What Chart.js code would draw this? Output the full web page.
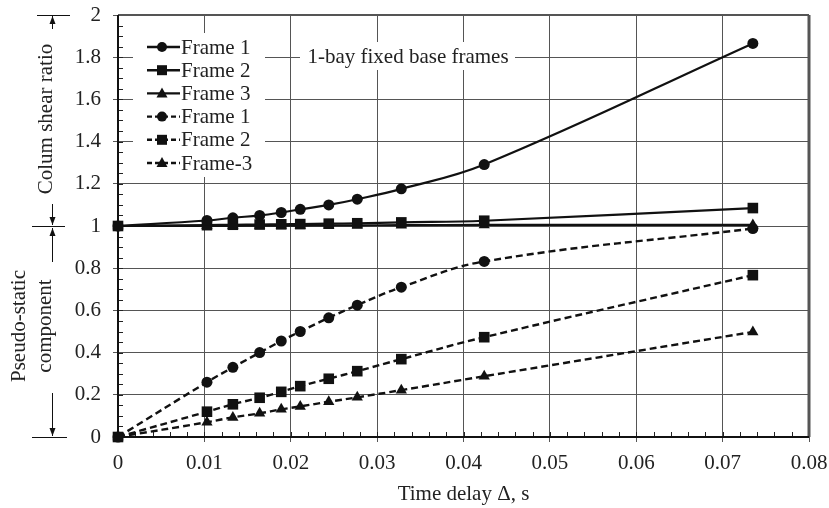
<!DOCTYPE html>
<html>
<head>
<meta charset="utf-8">
<script src="https://cdn.jsdelivr.net/npm/chart.js@4.4.1/dist/chart.umd.min.js"></script>
<style>
  body { margin: 0; background: #fff; }
</style>
</head>
<body>
<canvas id="chart" width="829" height="508"></canvas>
<script>
// time delay (s) at each analysis point
const timeDelays = [0, 0.0103, 0.0133, 0.0164, 0.0189, 0.0211, 0.0244, 0.0277, 0.0328, 0.0424, 0.0735];

// column shear ratio (solid lines)
const shearFrame1 = [1, 1.026, 1.039, 1.05, 1.064, 1.079, 1.1, 1.127, 1.176, 1.291, 1.865];
const shearFrame2 = [1, 1.004, 1.006, 1.007, 1.008, 1.009, 1.011, 1.013, 1.017, 1.025, 1.085];
const shearFrame3 = [1, 1.001, 1.001, 1.002, 1.002, 1.002, 1.003, 1.003, 1.004, 1.005, 1.005];

// pseudo-static component (dashed lines)
const pseudoFrame1 = [0, 0.26, 0.33, 0.4, 0.455, 0.5, 0.565, 0.625, 0.71, 0.832, 0.988];
const pseudoFrame2 = [0, 0.12, 0.155, 0.186, 0.214, 0.241, 0.276, 0.312, 0.369, 0.473, 0.767];
const pseudoFrame3 = [0, 0.07, 0.093, 0.112, 0.131, 0.145, 0.167, 0.188, 0.222, 0.288, 0.498];

const seriesLabels = ["Frame 1", "Frame 2", "Frame 3", "Frame 1", "Frame 2", "Frame-3"];
const xTickValues = [0, 0.01, 0.02, 0.03, 0.04, 0.05, 0.06, 0.07, 0.08];
const yTickValues = [0, 0.2, 0.4, 0.6, 0.8, 1, 1.2, 1.4, 1.6, 1.8, 2];

const FONT = "Liberation Serif";
const FONT_SIZE = 21;
const INK = "#111";

const toPoints = (ys) => ys.map((y, i) => ({ x: timeDelays[i], y: y }));

const makeSeries = (label, ys, style, dashed) => ({
  label: label,
  data: toPoints(ys),
  borderColor: INK,
  backgroundColor: INK,
  borderWidth: dashed ? 2.4 : 2.2,
  borderDash: dashed ? [7, 4] : [],
  pointStyle: style,
  pointRadius: style === "rect" ? 7.5 : style === "triangle" ? 6.5 : 5.5,
  pointBorderWidth: 0,
  tension: 0.4,
  clip: false,
});

// white boxes, minor ticks, legend and frame drawn on top of the grid
const decorations = {
  id: "decorations",
  beforeDatasetsDraw(chart) {
    const { ctx, chartArea: a, scales } = chart;
    ctx.save();
    ctx.fillStyle = "#fff";
    ctx.fillRect(133, 33, 132, 144);
    ctx.fillRect(300, 42, 215, 28);

    // minor ticks
    ctx.strokeStyle = "#222";
    ctx.lineWidth = 1;
    ctx.beginPath();
    for (let v = 0.002; v < 0.08; v += 0.002) {
      const px = Math.round(scales.x.getPixelForValue(v)) + 0.5;
      ctx.moveTo(px, a.bottom);
      ctx.lineTo(px, a.bottom - 5);
    }
    for (let v = 0.05; v < 2; v += 0.05) {
      const py = Math.round(scales.y.getPixelForValue(v)) + 0.5;
      ctx.moveTo(a.left, py);
      ctx.lineTo(a.left + 5, py);
    }
    ctx.stroke();

    // frame
    ctx.strokeStyle = "#555";
    ctx.lineWidth = 2;
    ctx.beginPath();
    ctx.moveTo(a.left, a.top);
    ctx.lineTo(a.right, a.top);
    ctx.stroke();
    ctx.lineWidth = 3;
    ctx.beginPath();
    ctx.moveTo(a.right, a.top);
    ctx.lineTo(a.right, a.bottom);
    ctx.stroke();
    ctx.strokeStyle = INK;
    ctx.lineWidth = 2;
    ctx.beginPath();
    ctx.moveTo(a.left, a.top);
    ctx.lineTo(a.left, a.bottom);
    ctx.lineTo(a.right, a.bottom);
    ctx.stroke();

    // legend
    ctx.font = FONT_SIZE + "px " + FONT;
    ctx.textBaseline = "middle";
    ctx.textAlign = "left";
    chart.data.datasets.forEach((ds, i) => {
      const y = 47 + i * 23.2;
      ctx.strokeStyle = INK;
      ctx.lineWidth = 2.4;
      ctx.setLineDash(ds.borderDash.length ? [5, 3] : []);
      ctx.beginPath();
      ctx.moveTo(147, y);
      ctx.lineTo(180, y);
      ctx.stroke();
      ctx.setLineDash([]);
      ctx.fillStyle = INK;
      ctx.beginPath();
      if (ds.pointStyle === "circle") {
        ctx.arc(162, y, 5, 0, Math.PI * 2);
      } else if (ds.pointStyle === "rect") {
        ctx.rect(157, y - 5, 10, 10);
      } else {
        ctx.moveTo(162, y - 6);
        ctx.lineTo(167.5, y + 4);
        ctx.lineTo(156.5, y + 4);
        ctx.closePath();
      }
      ctx.fill();
      ctx.fillStyle = "#222";
      ctx.fillText(ds.label, 181, y + 1);
    });

    ctx.textAlign = "center";
    ctx.fillText("1-bay fixed base frames", 408, 57);
    ctx.restore();
  },
  afterDraw(chart) {
    const { ctx, scales } = chart;
    const y2 = scales.y.getPixelForValue(2);
    const y1 = scales.y.getPixelForValue(1);
    const y0 = scales.y.getPixelForValue(0);
    ctx.save();
    ctx.strokeStyle = INK;
    ctx.fillStyle = INK;
    ctx.lineWidth = 1;

    const hLine = (y, x1, x2) => {
      ctx.beginPath();
      ctx.moveTo(x1, Math.round(y) + 0.5);
      ctx.lineTo(x2, Math.round(y) + 0.5);
      ctx.stroke();
    };
    const arrow = (x, from, to) => {
      ctx.beginPath();
      ctx.moveTo(x + 0.5, from);
      ctx.lineTo(x + 0.5, to);
      ctx.stroke();
      const dir = to > from ? 1 : -1;
      ctx.beginPath();
      ctx.moveTo(x + 0.5, to);
      ctx.lineTo(x - 2.5, to - dir * 8);
      ctx.lineTo(x + 3.5, to - dir * 8);
      ctx.closePath();
      ctx.fill();
    };

    hLine(y2, 37, 70);
    hLine(y1, 32, 65);
    hLine(y0, 32, 67);
    arrow(52, y2 + 14, y2 + 1);
    arrow(52, y1 - 22, y1 - 1);
    arrow(52, y1 + 36, y1 + 2);
    arrow(52, y0 - 44, y0 - 1);

    ctx.font = FONT_SIZE + "px " + FONT;
    ctx.fillStyle = "#222";
    ctx.textAlign = "center";
    ctx.textBaseline = "middle";
    ctx.save();
    ctx.translate(46, 119);
    ctx.rotate(-Math.PI / 2);
    ctx.fillText("Colum shear ratio", 0, 0);
    ctx.restore();
    ctx.save();
    ctx.translate(19, 326);
    ctx.rotate(-Math.PI / 2);
    ctx.fillText("Pseudo-static", 0, 0);
    ctx.fillText("component", 0, 26);
    ctx.restore();
    ctx.restore();
  },
};

const ctx = document.getElementById("chart").getContext("2d");

new Chart(ctx, {
  type: "line",
  data: {
    datasets: [
      makeSeries(seriesLabels[0], shearFrame1, "circle", false),
      makeSeries(seriesLabels[1], shearFrame2, "rect", false),
      makeSeries(seriesLabels[2], shearFrame3, "triangle", false),
      makeSeries(seriesLabels[3], pseudoFrame1, "circle", true),
      makeSeries(seriesLabels[4], pseudoFrame2, "rect", true),
      makeSeries(seriesLabels[5], pseudoFrame3, "triangle", true),
    ],
  },
  options: {
    responsive: false,
    animation: false,
    layout: {
      padding: { top: 15, right: 20, left: 0, bottom: 0 },
    },
    plugins: {
      legend: { display: false },
      tooltip: { enabled: false },
    },
    scales: {
      x: {
        type: "linear",
        min: 0,
        max: 0.08,
        afterBuildTicks: (scale) => {
          scale.ticks = xTickValues.map((v) => ({ value: v }));
        },
        afterFit: (scale) => {
          scale.height = 71;
          scale.paddingLeft = 0;
          scale.paddingRight = 0;
        },
        ticks: {
          callback: (v) => String(Number(v.toFixed(2))),
          color: "#222",
          padding: 9,
          maxRotation: 0,
          font: { family: FONT, size: FONT_SIZE },
        },
        grid: { color: "#555", lineWidth: 1, tickLength: 5 },
        border: { display: false },
        title: {
          display: true,
          text: "Time delay Δ, s",
          color: "#222",
          padding: { top: 0, bottom: 1 },
          font: { family: FONT, size: FONT_SIZE },
        },
      },
      y: {
        min: 0,
        max: 2,
        afterBuildTicks: (scale) => {
          scale.ticks = yTickValues.map((v) => ({ value: v }));
        },
        afterFit: (scale) => {
          scale.width = 118;
          scale.paddingTop = 0;
          scale.paddingBottom = 0;
        },
        ticks: {
          callback: (v) => String(Number(v.toFixed(1))),
          color: "#222",
          padding: 12,
          font: { family: FONT, size: FONT_SIZE },
        },
        grid: { color: "#555", lineWidth: 1, tickLength: 5 },
        border: { display: false },
      },
    },
  },
  plugins: [decorations],
});
</script>
</body>
</html>
